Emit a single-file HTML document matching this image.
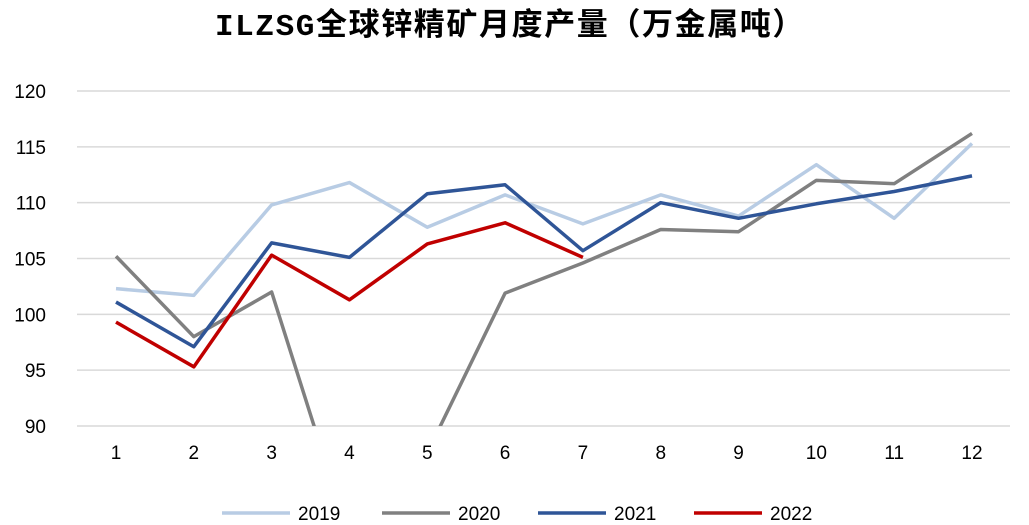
<!DOCTYPE html>
<html><head><meta charset="utf-8">
<style>
body{margin:0;background:#fff;}
svg{display:block;font-family:"Liberation Sans","Noto Sans CJK SC",sans-serif;}
</style></head>
<body>
<svg id="chart" width="1029" height="525" viewBox="0 0 1029 525">
<defs><clipPath id="plotclip"><rect x="70" y="80" width="950" height="346"/></clipPath></defs>
<text x="510" y="35" text-anchor="middle" font-size="31" letter-spacing="1.6" font-weight="600" fill="#000" font-family="Liberation Mono,'Noto Sans CJK SC',sans-serif">ILZSG全球锌精矿月度产量（万金属吨）</text>
<g id="grid"></g><g id="yticks"></g><g id="xticks"></g>
<g id="series" clip-path="url(#plotclip)"></g>
<g id="legend"></g>
</svg>
<script>
const categories=["1","2","3","4","5","6","7","8","9","10","11","12"];
const yTicks=[90,95,100,105,110,115,120];
const seriesNames=["2019","2020","2021","2022"];
const seriesColors=["#b8cce4","#808080","#2f5597","#c00000"];
const s2019=[102.3,101.7,109.8,111.8,107.8,110.7,108.1,110.7,108.8,113.4,108.6,115.3];
const s2020=[105.2,98.0,102.0,80.0,87.6,101.9,104.6,107.6,107.4,112.0,111.7,116.2];
const s2021=[101.1,97.1,106.4,105.1,110.8,111.6,105.7,110.0,108.6,109.9,111.0,112.4];
const s2022=[99.3,95.3,105.3,101.3,106.3,108.2,105.1];
const allSeries=[s2019,s2020,s2021,s2022];
const NS="http://www.w3.org/2000/svg";
const X0=77,X1=1010,Y90=426,Y120=91;
function xPos(i){return 116+i*(972-116)/(categories.length-1);}
function yPos(v){return Y90-(v-90)*(Y90-Y120)/30;}
function mk(t,a,p){const e=document.createElementNS(NS,t);for(const k in a)e.setAttribute(k,a[k]);p.appendChild(e);return e;}
const g=document.getElementById('grid'),yt=document.getElementById('yticks'),xt=document.getElementById('xticks');
yTicks.forEach(v=>{
 const l=mk('line',{x1:X0,x2:X1,y1:yPos(v),y2:yPos(v),stroke:'#d9d9d9','stroke-width':1.5},g);
 
 
 const t=mk('text',{x:46,y:yPos(v)+7,'text-anchor':'end','font-size':19,fill:'#000'},yt);
 t.textContent=v;
 
 
});
categories.forEach((c,i)=>{
 const t=mk('text',{x:xPos(i),y:459,'text-anchor':'middle','font-size':19,fill:'#000'},xt);
 t.textContent=c;
 
 
});
const sg=document.getElementById('series');
allSeries.forEach((s,k)=>{
 const pts=s.map((v,i)=>xPos(i)+','+yPos(v)).join(' ');
 const p=mk('polyline',{points:pts,fill:'none',stroke:seriesColors[k],'stroke-width':3.5,'stroke-linejoin':'round'},sg);
 
 
});
const lg=document.getElementById('legend');
const lx=[222,382,538,694];
seriesNames.forEach((n,k)=>{
 const grp=mk('g',{},lg);
 
 
 mk('line',{x1:lx[k],x2:lx[k]+68,y1:513,y2:513,stroke:seriesColors[k],'stroke-width':3.5},grp);
 const t=mk('text',{x:lx[k]+76,y:520,'font-size':19,fill:'#000'},grp);
 t.textContent=n;
});
</script>
</body></html>
